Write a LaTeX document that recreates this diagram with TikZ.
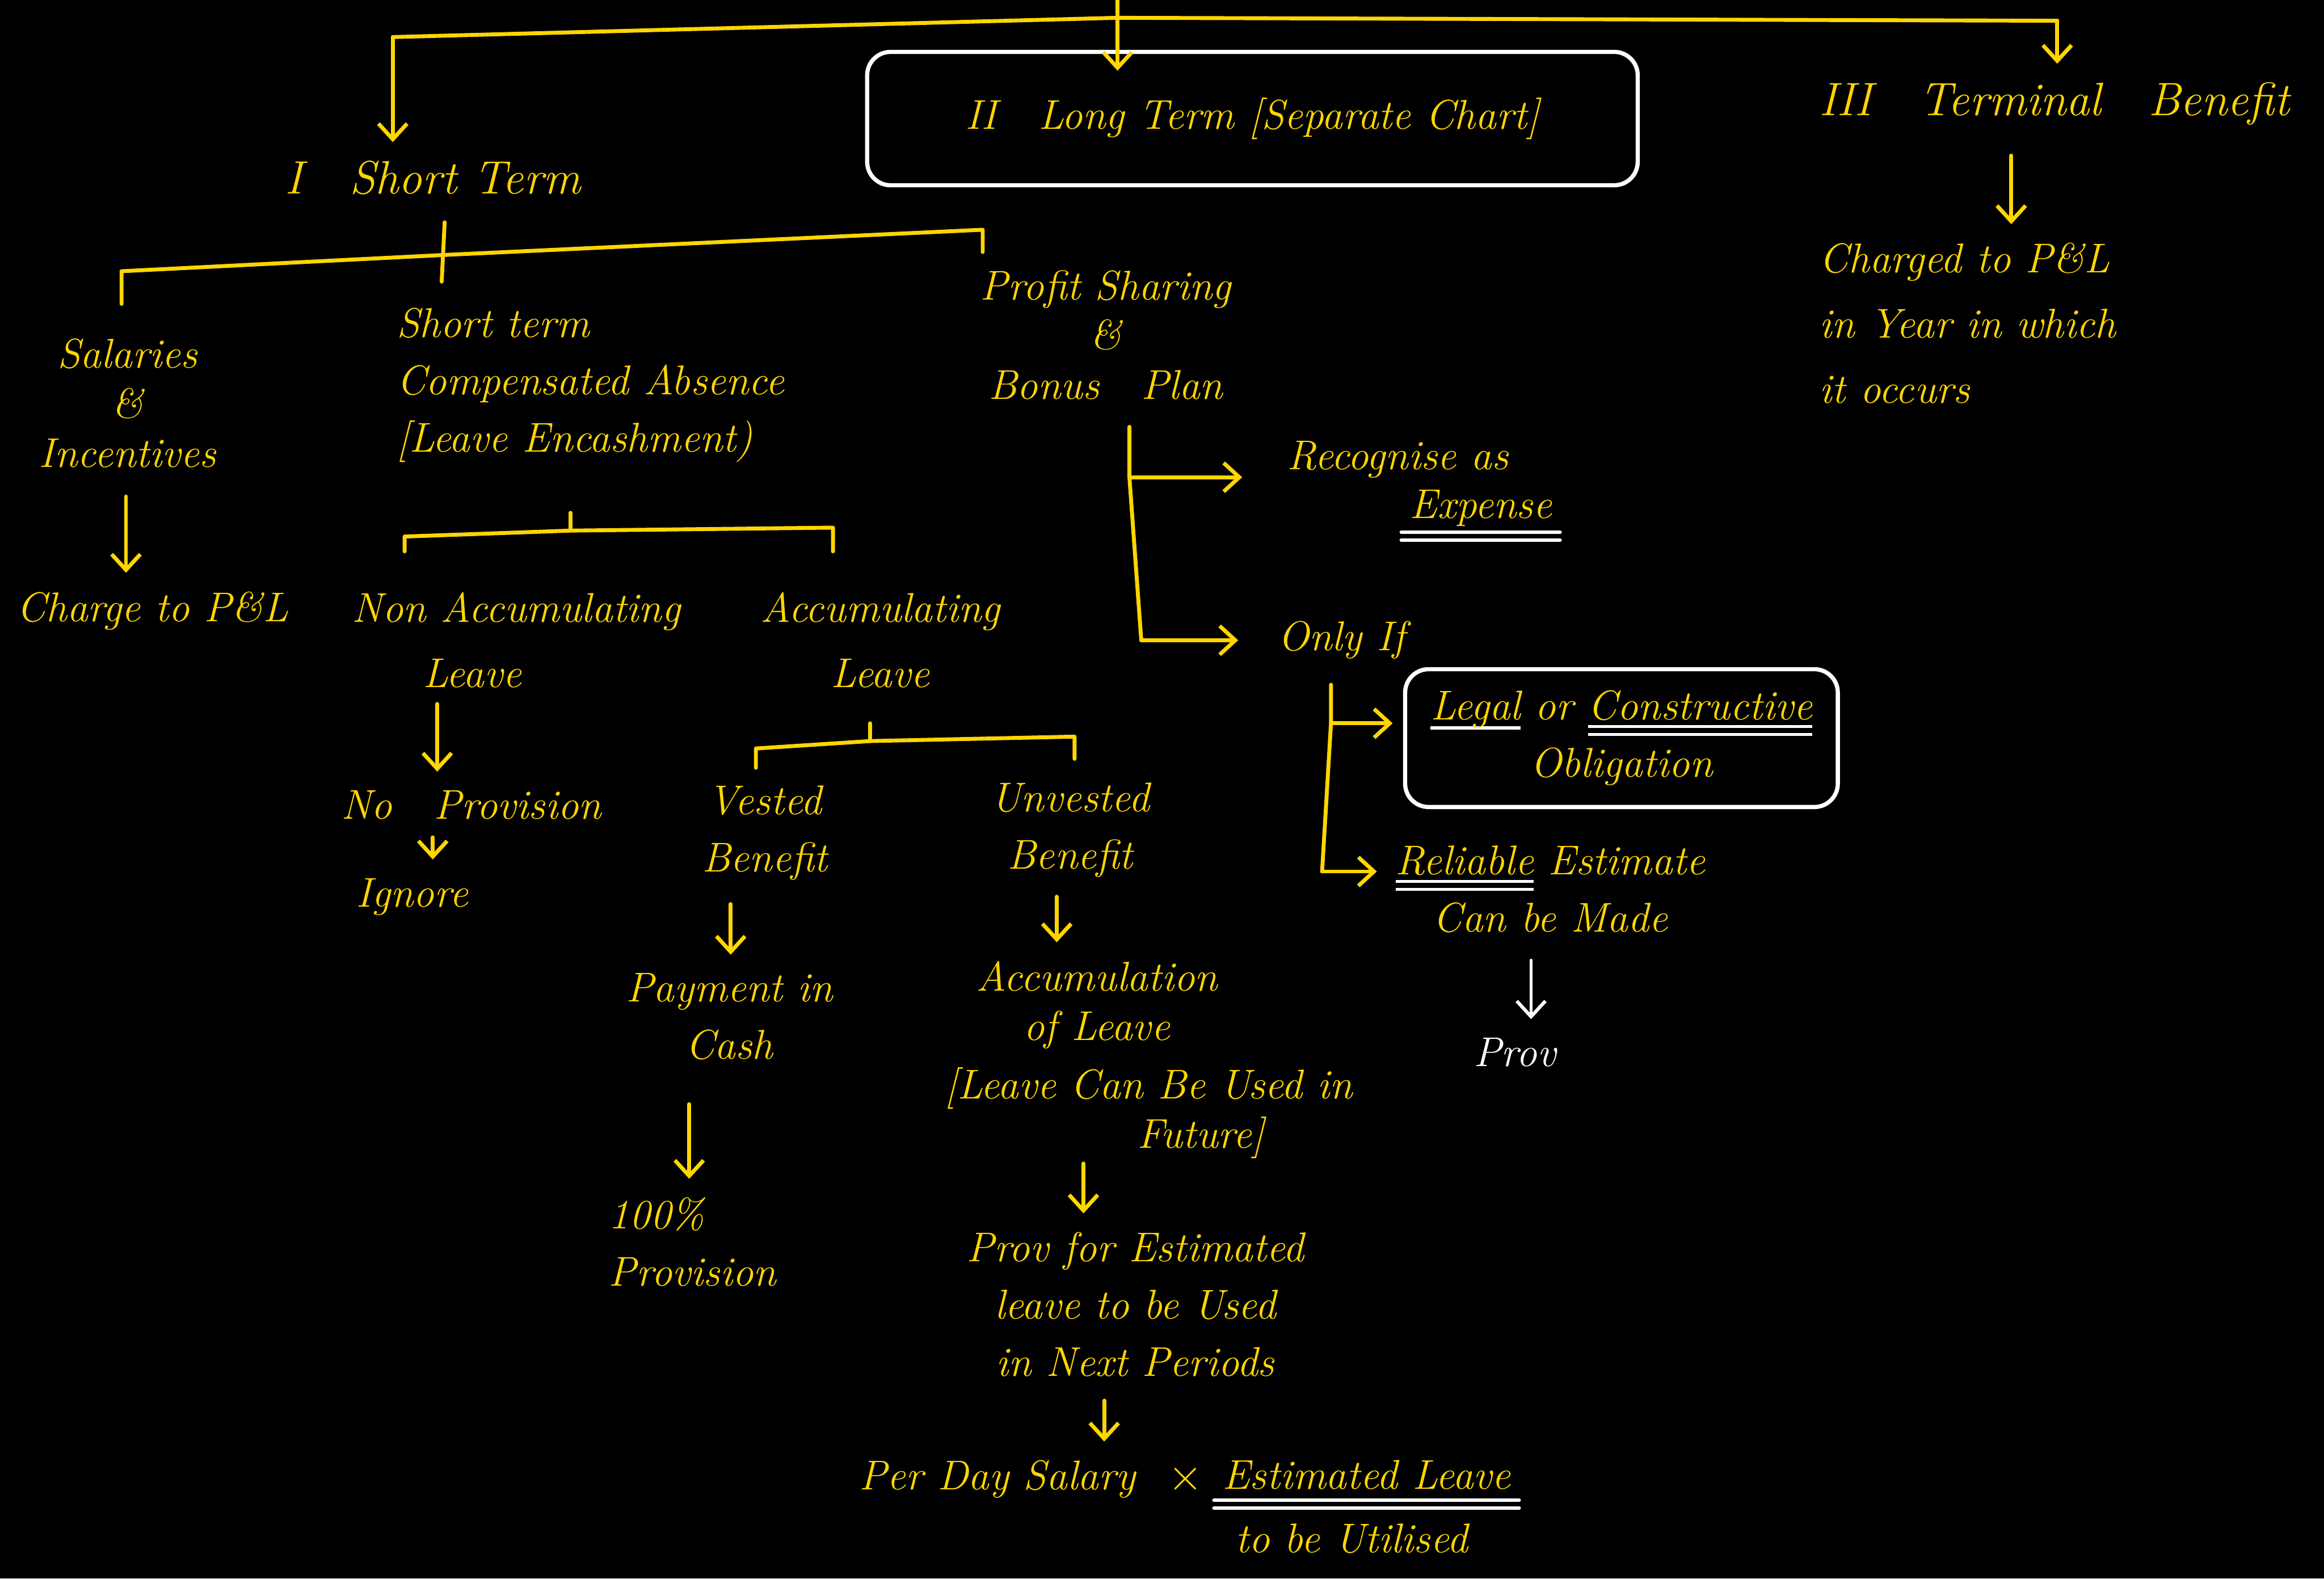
\documentclass[tikz,border=0pt]{standalone}
\usepackage{fontspec}
\usetikzlibrary{arrows.meta}

\definecolor{chalk}{RGB}{255,214,0}

% white strokes under words
\newsavebox{\wordbox}
\newcommand{\wul}[1]{\sbox{\wordbox}{#1}\rlap{\textcolor{white}{\rule[-0.55ex]{\wd\wordbox}{1.3pt}}}\usebox{\wordbox}}
\newcommand{\wuul}[1]{\sbox{\wordbox}{#1}\rlap{\textcolor{white}{\rule[-0.45ex]{\wd\wordbox}{1.1pt}}}\rlap{\textcolor{white}{\rule[-0.9ex]{\wd\wordbox}{1.1pt}}}\usebox{\wordbox}}

\begin{document}
\begin{tikzpicture}[x=0.02cm, y=-0.02cm,
    txt/.style={text=chalk, font=\fontsize{16}{22}\selectfont\itshape, align=center, inner sep=3pt},
    tight/.style={font=\fontsize{16}{19}\selectfont\itshape},
    loose/.style={font=\fontsize{16}{25}\selectfont\itshape},
    big/.style={font=\fontsize{18}{22}\selectfont\itshape},
    line/.style={draw=chalk, line width=1.5pt, line cap=round, line join=round},
    arr/.style={line, -{Straight Barb[length=6pt, width=11pt]}, shorten >=4pt},
    wline/.style={draw=white, line width=1.3pt, line cap=round},
    warr/.style={wline, -{Straight Barb[length=6pt, width=11pt]}, shorten >=4pt},
    wbox/.style={draw=white, line width=1.6pt, rounded corners=9pt}]

    \useasboundingbox (0,0) rectangle (1568,1065);
    \fill[black] (0,0) rectangle (1568,1065);

    % Nodes
    % top row: I, II, III
    \node[txt, big] (short) at (292,120) {I\quad Short Term};
    \node[txt, wbox, minimum width=10.4cm, minimum height=1.8cm] (long) at (845,80) {II\quad Long Term [Separate Chart]};
    \node[txt, big] (term) at (1386,70) {III\quad Terminal\quad Benefit};
    \node[txt, loose, anchor=west, align=left] (chgyear) at (1222,218) {Charged to P\&L\\in Year in which\\it occurs};

    % short term heads
    \node[txt, tight] (sal) at (86,272) {Salaries\\\&\\Incentives};
    \node[txt] (chgpl) at (103,412) {Charge to P\&L};
    \node[txt, anchor=west, align=left] (comp) at (262,260) {Short term\\Compensated Absence\\{}[Leave Encashment)};
    \node[txt, tight] (profit) at (746,226) {Profit Sharing\\\&\\Bonus\quad Plan};

    % leave
    \node[txt, loose, anchor=west, align=left] (nonacc) at (232,432) {Non Accumulating\\\hspace*{1.7em}Leave};
    \node[txt, loose] (acc) at (594,432) {Accumulating\\Leave};
    \node[txt] (noprov) at (318,543) {No\quad Provision};
    \node[txt] (ignore) at (278,605) {Ignore};
    \node[txt] (vested) at (516,562) {Vested\\Benefit};
    \node[txt] (unvested) at (722,560) {Unvested\\Benefit};
    \node[txt] (payment) at (492,686) {Payment in\\Cash};
    \node[txt, anchor=west, align=left] (hundred) at (405,838) {100\%\\Provision};
    \node[txt, tight] (accum) at (740,678) {Accumulation\\of Leave};
    \node[txt, tight] (future) at (775,751) {[Leave Can Be Used in\\\hspace*{2.5em}Future]};
    \node[txt] (prov) at (766,880) {Prov for Estimated\\leave to be Used\\in Next Periods};
    \node[txt] (perday) at (673,998) {Per Day Salary};
    \node[txt] (times) at (800,998) {$\times$};
    \node[txt] (num) at (922,995) {Estimated Leave};
    \node[txt] (den) at (912,1038) {to be Utilised};

    % profit sharing
    \node[txt] (recog) at (943,310) {Recognise as};
    \node[txt] (expense) at (999,343) {Expense};
    \node[txt] (onlyif) at (905,432) {Only If};
    \node[txt, wbox, minimum width=5.84cm, minimum height=1.86cm] (oblig) at (1094,498) {\wul{Legal} or \wuul{Constructive}\\Obligation};
    \node[txt] (reliable) at (1046,600) {\wuul{Reliable} Estimate\\Can be Made};
    \node[txt, text=white] (provw) at (1022,710) {Prov};

    % Brackets
    \coordinate (top) at (754,0);
    \coordinate (tl) at (265,25);
    \coordinate (tm) at (754,12);
    \coordinate (tr) at (1388,14);
    \draw[line] (tl) -- (tm) -- (tr);
    \draw[arr] (tl) -- (tl |- short.north);
    \draw[arr, shorten >=-8pt] (top) -- (top |- long.north);
    \draw[arr] (tr) -- (tr |- term.north);

    \coordinate (s0) at (300,150);
    \coordinate (s1) at (82,205);
    \coordinate (s1t) at (82,183);
    \coordinate (sm) at (300,172);
    \coordinate (s2) at (298,190);
    \coordinate (s3t) at (663,155);
    \coordinate (s3) at (663,170);
    \draw[line] (s1) -- (s1t) -- (sm) -- (s3t) -- (s3);
    \draw[line] (s0) -- (s2);

    \coordinate (c0) at (385,346);
    \coordinate (c1) at (273,372);
    \coordinate (c1t) at (273,362);
    \coordinate (cm) at (385,358);
    \coordinate (c2t) at (562,356);
    \coordinate (c2) at (562,372);
    \draw[line] (c1) -- (c1t) -- (cm) -- (c2t) -- (c2);
    \draw[line] (c0) -- (cm);

    \coordinate (v0) at (587,488);
    \coordinate (v1) at (510,518);
    \coordinate (v1t) at (510,505);
    \coordinate (vm) at (587,500);
    \coordinate (v2t) at (725,497);
    \coordinate (v2) at (725,512);
    \draw[line] (v1) -- (v1t) -- (vm) -- (v2t) -- (v2);
    \draw[line] (v0) -- (vm);

    % Arrows down
    \coordinate (a1) at (85,335);
    \coordinate (a2) at (295,475);
    \coordinate (a3) at (292,565);
    \coordinate (a4) at (493,610);
    \coordinate (a5) at (465,745);
    \coordinate (a6) at (713,605);
    \coordinate (a7) at (731,785);
    \coordinate (a8) at (745,945);
    \coordinate (a9) at (1357,105);
    \coordinate (a10) at (1033,648);
    \draw[arr] (a1) -- (a1 |- chgpl.north);
    \draw[arr] (a2) -- (a2 |- noprov.north);
    \draw[arr] (a3) -- (a3 |- ignore.north);
    \draw[arr] (a4) -- (a4 |- payment.north);
    \draw[arr] (a5) -- (a5 |- hundred.north);
    \draw[arr] (a6) -- (a6 |- accum.north);
    \draw[arr] (a7) -- (a7 |- prov.north);
    \draw[arr] (a8) -- (a8 |- perday.north);
    \draw[arr] (a9) -- (a9 |- chgyear.north);
    \draw[warr] (a10) -- (a10 |- provw.north);

    % Profit sharing branch
    \coordinate (p0) at (762,288);
    \coordinate (p1) at (762,322);
    \coordinate (p2) at (770,432);
    \draw[line] (p0) -- (p1) -- (p2);
    \draw[arr, shorten >=14pt] (p1) -- (recog.west |- p1);
    \draw[arr, shorten >=12pt] (p2) -- (onlyif.west |- p2);

    \coordinate (o0) at (898,462);
    \coordinate (o1) at (898,488);
    \coordinate (o2) at (892,588);
    \draw[line] (o0) -- (o1) -- (o2);
    \draw[arr] (o1) -- (oblig.west |- o1);
    \draw[arr] (o2) -- (reliable.west |- o2);

    % white marks
    \draw[wline] ([yshift=1pt]expense.south west) -- ([yshift=1pt]expense.south east);
    \draw[wline] ([yshift=-2pt]expense.south west) -- ([yshift=-2pt]expense.south east);
    \draw[wline] ([yshift=-1pt]num.south west) -- ([yshift=-1pt]num.south east);
    \draw[wline] ([yshift=-4pt]num.south west) -- ([yshift=-4pt]num.south east);

\end{tikzpicture}
\end{document}
